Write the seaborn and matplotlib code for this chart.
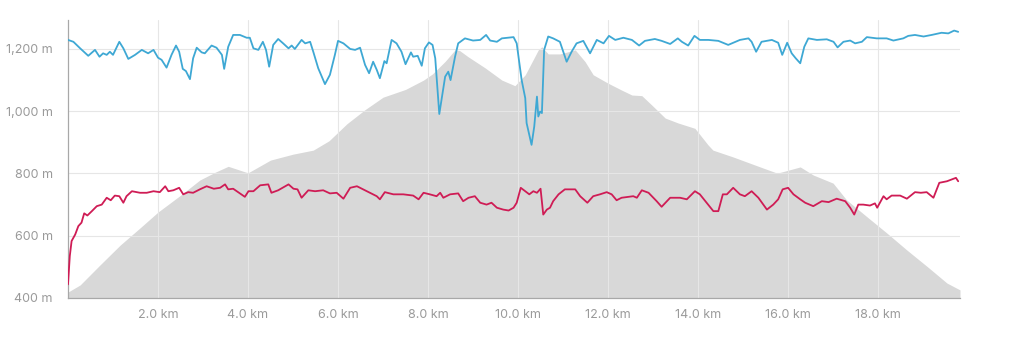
import matplotlib
matplotlib.use("Agg")
import matplotlib.pyplot as plt
from matplotlib.ticker import FuncFormatter
import numpy as np
import pandas as pd
import seaborn as sns

# elevation profile (grey area)
elev_km = [0, 0.27, 0.71, 1.16, 1.6, 2.0, 2.5, 2.93, 3.27, 3.56, 4.0, 4.5, 5.0, 5.45, 5.8,
           6.2, 6.6, 7.0, 7.5, 7.9, 8.1, 8.38, 8.6, 8.7, 8.89, 9.27, 9.64, 9.93, 10.16, 10.45,
           10.53, 10.67, 10.93, 11.27, 11.49, 11.67, 12.0, 12.3, 12.53, 12.75, 12.97, 13.27, 13.56, 13.93, 14.22,
           14.33, 14.78, 15.38, 15.76, 16.27, 16.56, 17.0, 17.3, 17.76, 18.2, 18.64, 19.1, 19.53, 19.82]
elev_m = [419, 442, 506, 570, 625, 676, 730, 779, 804, 823, 802, 843, 862, 875, 905,
          960, 1005, 1045, 1070, 1100, 1120, 1160, 1197, 1195, 1175, 1139, 1100, 1082, 1117, 1197,
          1207, 1184, 1184, 1197, 1159, 1117, 1090, 1068, 1052, 1050, 1020, 978, 962, 945, 892,
          875, 853, 821, 801, 821, 795, 769, 715, 660, 608, 554, 500, 448, 426]

# blue series
blue_km = [0.0, 0.12, 0.27, 0.45, 0.6, 0.7, 0.78, 0.86, 0.93, 1.0, 1.14, 1.23, 1.34, 1.49, 1.64,
           1.78, 1.9, 2.0, 2.08, 2.19, 2.3, 2.4, 2.47, 2.55, 2.62, 2.71, 2.78, 2.86, 2.97, 3.04,
           3.19, 3.3, 3.42, 3.47, 3.56, 3.67, 3.82, 3.97, 4.04, 4.12, 4.23, 4.33, 4.4, 4.47, 4.56,
           4.67, 4.78, 4.9, 4.97, 5.04, 5.19, 5.27, 5.38, 5.45, 5.56, 5.71, 5.82, 5.93, 6.0, 6.12,
           6.27, 6.38, 6.49, 6.6, 6.69, 6.78, 6.86, 6.93, 7.03, 7.08, 7.19, 7.3, 7.41, 7.5, 7.62,
           7.67, 7.77, 7.86, 7.93, 8.02, 8.1, 8.16, 8.25, 8.38, 8.45, 8.5, 8.6, 8.67, 8.82, 9.0,
           9.16, 9.29, 9.38, 9.53, 9.64, 9.9, 9.97, 10.08, 10.16, 10.19, 10.3, 10.36, 10.42, 10.45, 10.49,
           10.53, 10.58, 10.67, 10.78, 10.93, 11.08, 11.19, 11.3, 11.45, 11.6, 11.75, 11.9, 12.02, 12.16, 12.34,
           12.53, 12.69, 12.82, 13.04, 13.19, 13.38, 13.55, 13.64, 13.78, 13.92, 14.04, 14.23, 14.45, 14.67, 14.93,
           15.12, 15.19, 15.29, 15.41, 15.64, 15.78, 15.87, 15.98, 16.08, 16.17, 16.27, 16.36, 16.45, 16.64, 16.86,
           17.01, 17.1, 17.23, 17.38, 17.49, 17.64, 17.75, 17.97, 18.19, 18.34, 18.56, 18.67, 18.82, 19.01, 19.19,
           19.41, 19.56, 19.69, 19.78]
blue_m = [1229, 1223, 1202, 1178, 1197, 1175, 1186, 1181, 1191, 1181, 1223, 1202, 1168, 1181, 1197,
          1186, 1197, 1172, 1165, 1140, 1181, 1211, 1191, 1136, 1129, 1103, 1170, 1204, 1189, 1186,
          1211, 1204, 1181, 1136, 1207, 1245, 1245, 1236, 1236, 1202, 1197, 1223, 1197, 1143, 1213,
          1232, 1218, 1202, 1211, 1200, 1229, 1218, 1223, 1191, 1138, 1087, 1117, 1181, 1226, 1218,
          1200, 1197, 1204, 1149, 1122, 1159, 1133, 1106, 1161, 1154, 1229, 1218, 1191, 1151, 1189,
          1175, 1178, 1146, 1202, 1221, 1213, 1170, 991, 1111, 1127, 1100, 1175, 1218, 1234, 1227,
          1229, 1245, 1227, 1223, 1234, 1238, 1218, 1100, 1042, 962, 892, 951, 1047, 983, 999,
          994, 1197, 1240, 1234, 1223, 1159, 1191, 1218, 1226, 1186, 1229, 1218, 1242, 1229, 1236,
          1229, 1211, 1226, 1232, 1226, 1216, 1234, 1223, 1211, 1242, 1229, 1229, 1226, 1213, 1229,
          1234, 1223, 1191, 1223, 1229, 1220, 1181, 1220, 1186, 1170, 1154, 1207, 1234, 1229, 1231,
          1223, 1205, 1223, 1227, 1218, 1223, 1238, 1234, 1234, 1227, 1234, 1242, 1245, 1240, 1245,
          1252, 1250, 1259, 1255]

# red series
red_km = [0.0, 0.04, 0.08, 0.16, 0.23, 0.3, 0.36, 0.43, 0.53, 0.64, 0.75, 0.86, 0.95, 1.04, 1.14,
          1.23, 1.3, 1.42, 1.6, 1.75, 1.9, 2.04, 2.16, 2.23, 2.34, 2.47, 2.56, 2.67, 2.78, 2.93,
          3.08, 3.24, 3.38, 3.49, 3.56, 3.67, 3.78, 3.93, 4.01, 4.12, 4.27, 4.45, 4.52, 4.67, 4.9,
          5.01, 5.1, 5.19, 5.34, 5.49, 5.67, 5.82, 5.97, 6.12, 6.27, 6.42, 6.64, 6.86, 6.93, 7.04,
          7.23, 7.45, 7.67, 7.79, 7.9, 8.04, 8.19, 8.27, 8.34, 8.49, 8.67, 8.78, 8.9, 9.04, 9.16,
          9.3, 9.41, 9.53, 9.67, 9.79, 9.9, 9.97, 10.06, 10.16, 10.25, 10.34, 10.42, 10.5, 10.56, 10.64,
          10.71, 10.78, 10.9, 11.04, 11.27, 11.38, 11.54, 11.67, 11.82, 11.97, 12.08, 12.19, 12.3, 12.56, 12.64,
          12.75, 12.9, 13.08, 13.19, 13.38, 13.6, 13.75, 13.93, 14.04, 14.19, 14.34, 14.45, 14.55, 14.64, 14.78,
          14.93, 15.04, 15.19, 15.34, 15.53, 15.67, 15.78, 15.88, 16.0, 16.12, 16.27, 16.38, 16.56, 16.75, 16.9,
          17.08, 17.27, 17.38, 17.47, 17.56, 17.67, 17.82, 17.93, 17.98, 18.12, 18.19, 18.3, 18.49, 18.64, 18.82,
          18.95, 19.08, 19.23, 19.36, 19.53, 19.64, 19.73, 19.78]
red_m = [444, 535, 583, 604, 631, 642, 672, 665, 679, 695, 700, 722, 714, 729, 727,
         706, 727, 743, 738, 738, 743, 740, 759, 743, 746, 754, 733, 740, 738, 749,
         759, 751, 754, 765, 749, 751, 740, 725, 743, 743, 762, 765, 738, 746, 765,
         751, 749, 722, 746, 743, 746, 736, 738, 719, 754, 759, 743, 727, 717, 740,
         733, 733, 729, 717, 738, 733, 727, 738, 722, 733, 736, 711, 722, 727, 706,
         700, 706, 690, 684, 681, 690, 706, 754, 743, 733, 743, 738, 751, 668, 684,
         690, 711, 733, 749, 749, 727, 706, 727, 733, 740, 733, 714, 722, 727, 722,
         746, 738, 711, 693, 722, 722, 717, 743, 733, 706, 679, 679, 733, 733, 754,
         733, 727, 743, 722, 684, 700, 717, 749, 754, 733, 717, 706, 695, 711, 708,
         719, 711, 690, 668, 700, 700, 697, 704, 690, 727, 717, 729, 729, 719, 740,
         738, 740, 722, 770, 775, 781, 786, 775]

y_ticks = [400, 600, 800, 1000, 1200]
x_ticks = [2, 4, 6, 8, 10, 12, 14, 16, 18]

sns.set_style("white")
plt.rcParams['font.family'] = ['Inter', 'DejaVu Sans']

fig = plt.figure(figsize=(10.24, 3.57), dpi=100)
ax = fig.add_axes([68 / 1024, 59 / 357, 892 / 1024, 278 / 357])

x_max = 19.82
y_top = 1293

# grey elevation area
ax.fill_between(elev_km, 400, elev_m, color="#d8d8d8", linewidth=0, zorder=1)

blue = pd.DataFrame({"km": blue_km, "m": blue_m})
red = pd.DataFrame({"km": red_km, "m": red_m})
sns.lineplot(data=blue, x="km", y="m", ax=ax, color="#3ea8d4", linewidth=1.3, zorder=3)
sns.lineplot(data=red, x="km", y="m", ax=ax, color="#cf1c55", linewidth=1.3, zorder=3)

ax.set_xlim(0, x_max)
ax.set_ylim(400, y_top)
ax.set_xlabel("")
ax.set_ylabel("")

ax.set_xticks(x_ticks)
ax.set_yticks(y_ticks)
ax.xaxis.set_major_formatter(FuncFormatter(lambda v, p: f"{v:.1f} km"))
ax.yaxis.set_major_formatter(FuncFormatter(lambda v, p: f"{int(v):,} m"))
ax.set_xticks([0, x_max], minor=True)
ax.set_yticks([400, y_top], minor=True)

ax.tick_params(axis="both", which="major", length=0, labelsize=9, labelcolor="#9a9a9a")
ax.tick_params(axis="y", which="major", pad=11)
ax.tick_params(axis="x", which="major", pad=8)
ax.tick_params(axis="x", which="minor", length=8, direction="inout", color="#a0a0a0", width=0.8)
ax.tick_params(axis="y", which="minor", length=6, direction="out", color="#a0a0a0", width=0.8)

ax.set_axisbelow("line")
ax.grid(True, which="major", color="#e6e6e6", linewidth=0.8, zorder=1.5)

for side in ["top", "right"]:
    ax.spines[side].set_visible(False)
for side in ["left", "bottom"]:
    ax.spines[side].set_color("#a8a8a8")
    ax.spines[side].set_linewidth(0.9)

fig.savefig("out.png", dpi=100)
